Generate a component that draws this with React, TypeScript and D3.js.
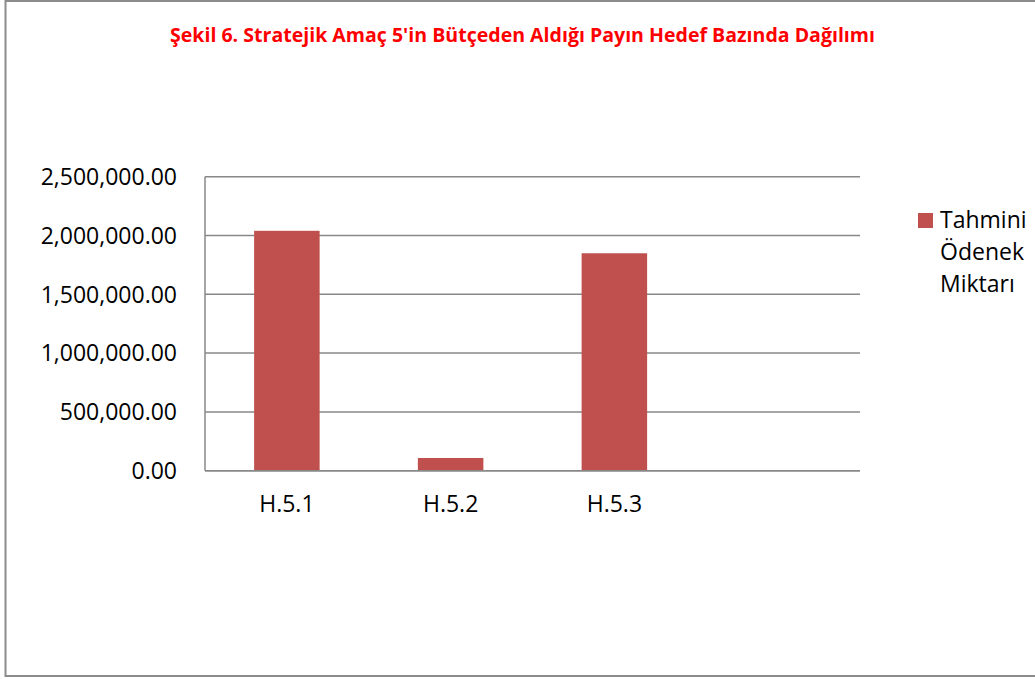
import React from "react";
import * as d3 from "d3";

const titleText = "Şekil 6. Stratejik Amaç 5'in Bütçeden Aldığı Payın Hedef Bazında Dağılımı";
const categories = ["H.5.1", "H.5.2", "H.5.3", ""];
const values: (number | null)[] = [2040000, 108000, 1849000, null];
const yTicks = [0, 500000, 1000000, 1500000, 2000000, 2500000];
const seriesName = ["Tahmini", "Ödenek", "Miktarı"];

const W = 1035;
const H = 679;
const plot = { left: 205, right: 860, top: 176.7, bottom: 470.7 };
const barColor = "#C0504D";
const gridColor = "#888888";
const font = "'Open Sans', 'Noto Sans', sans-serif";

export default function App() {
  const keys = categories.map((c, i) => c || `__${i}`);
  const x = d3
    .scaleBand<string>()
    .domain(keys)
    .range([plot.left, plot.right])
    .paddingInner(0.6)
    .paddingOuter(0.3);
  const y = d3.scaleLinear().domain([0, 2500000]).range([plot.bottom, plot.top]);
  const fmt = d3.format(",.2f");

  return (
    <svg
      width={W}
      height={H}
      style={{ position: "absolute", left: 0, top: 0, display: "block", background: "#fff" }}
    >
      <rect x={5.5} y={1} width={1040} height={675} fill="#fff" stroke="#8c8c8c" strokeWidth={2} />
      <text
        x={522.5}
        y={42}
        textAnchor="middle"
        fontFamily={font}
        fontWeight="bold"
        fontSize={19.5}
        fill="#ff0000"
        textLength={705}
        lengthAdjust="spacingAndGlyphs"
      >
        {titleText}
      </text>

      {yTicks.map((t) => (
        <g key={t}>
          <line x1={plot.left} x2={plot.right} y1={y(t)} y2={y(t)} stroke={gridColor} strokeWidth={1.5} />
          <text
            x={177}
            y={y(t)}
            dy="0.36em"
            textAnchor="end"
            fontFamily={font}
            fontSize={23}
            fill="#000"
          >
            {fmt(t)}
          </text>
        </g>
      ))}
      <line x1={plot.left} x2={plot.left} y1={plot.top} y2={plot.bottom} stroke={gridColor} strokeWidth={1.5} />

      {keys.map((k, i) =>
        values[i] != null ? (
          <rect
            key={k}
            x={x(k)!}
            y={y(values[i] as number)}
            width={x.bandwidth()}
            height={plot.bottom - y(values[i] as number)}
            fill={barColor}
          />
        ) : null
      )}
      <line x1={plot.left} x2={plot.right} y1={plot.bottom} y2={plot.bottom} stroke={gridColor} strokeWidth={1.5} />

      {keys.map((k, i) => (
        <text
          key={"l" + k}
          x={x(k)! + x.bandwidth() / 2}
          y={512}
          textAnchor="middle"
          fontFamily={font}
          fontSize={23}
          fill="#000"
        >
          {categories[i]}
        </text>
      ))}

      <rect x={918} y={213} width={15} height={15} fill={barColor} />
      {seriesName.map((s, i) => (
        <text key={s} x={940} y={228 + i * 32} fontFamily={font} fontSize={23} fill="#000">
          {s}
        </text>
      ))}
    </svg>
  );
}
